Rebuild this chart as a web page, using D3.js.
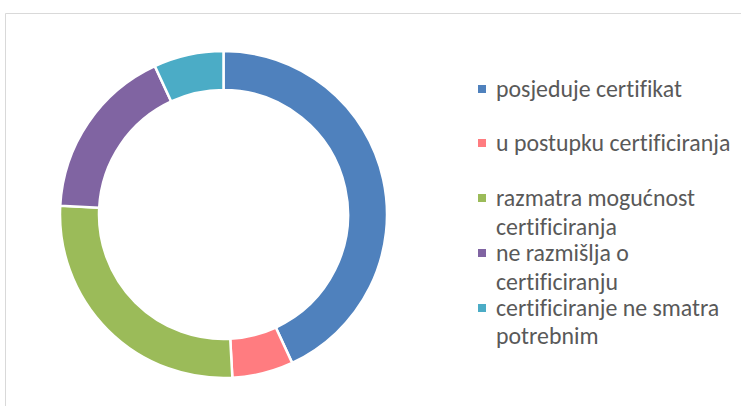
<!DOCTYPE html>
<html>
<head>
<meta charset="utf-8">
<script src="https://cdn.jsdelivr.net/npm/d3@7"></script>
<style>
  html, body { margin: 0; padding: 0; background: #fff; }
  svg { display: block; }
  text { font-variant-ligatures: none; font-feature-settings: "liga" 0; }
</style>
</head>
<body>
<svg id="chart" width="741" height="406"></svg>
<script>
// Status of certification among respondents (counts)
const categories = [
  "posjeduje certifikat",
  "u postupku certificiranja",
  "razmatra mogućnost certificiranja",
  "ne razmišlja o certificiranju",
  "certificiranje ne smatra potrebnim"
];
const values = [50, 7, 31, 20, 8];
const colors = ["#4F81BD", "#FF7C80", "#9BBB59", "#8064A2", "#4BACC6"];
// Legend text, broken into lines as laid out
const legendLines = [
  ["posjeduje certifikat"],
  ["u postupku certificiranja"],
  ["razmatra mogućnost", "certificiranja"],
  ["ne razmišlja o", "certificiranju"],
  ["certificiranje ne smatra", "potrebnim"]
];

const svg = d3.select("#chart");
const W = 741, H = 406;

// Chart area frame (continues past the right and bottom edges)
svg.append("path")
  .attr("d", `M5.5,${H + 2} V13.5 H${W + 2}`)
  .attr("fill", "none")
  .attr("stroke", "#D9D9D9")
  .attr("stroke-width", 1);

const cx = 223.5, cy = 214.5;
const outerR = 163.5, innerR = 124.5;

const data = categories.map((c, i) => ({ name: c, value: values[i], color: colors[i] }));

const pie = d3.pie().value(d => d.value).sort(null);
const arc = d3.arc().innerRadius(innerR).outerRadius(outerR);

svg.append("g")
  .attr("transform", `translate(${cx},${cy})`)
  .selectAll("path")
  .data(pie(data))
  .join("path")
  .attr("d", arc)
  .attr("fill", d => d.data.color)
  .attr("stroke", "#fff")
  .attr("stroke-width", 2.5)
  .attr("stroke-linejoin", "miter");

// Legend
const fontFamily = "Carlito, Calibri, Lato, 'Open Sans', sans-serif";
const legend = svg.append("g");

// Size the legend font so the first label spans its target width
const probe = legend.append("text")
  .attr("font-family", fontFamily)
  .attr("font-size", 20)
  .text(legendLines[0][0]);
const probeW = probe.node().getComputedTextLength();
probe.remove();
const fontSize = 20 * 186 / probeW;

// Vertical centers of each legend line
const lineCenters = [
  [89],
  [143],
  [198, 227],
  [253, 282],
  [308, 336]
];

legendLines.forEach((lines, i) => {
  const g = legend.append("g");
  g.append("rect")
    .attr("x", 478)
    .attr("y", lineCenters[i][0] - 4)
    .attr("width", 8)
    .attr("height", 8)
    .attr("fill", colors[i]);
  lines.forEach((ln, j) => {
    g.append("text")
      .attr("x", 496)
      .attr("y", lineCenters[i][j])
      .attr("dy", "0.35em")
      .attr("font-family", fontFamily)
      .attr("font-size", fontSize)
      .attr("fill", "#595959")
      .text(ln);
  });
});
</script>
</body>
</html>
